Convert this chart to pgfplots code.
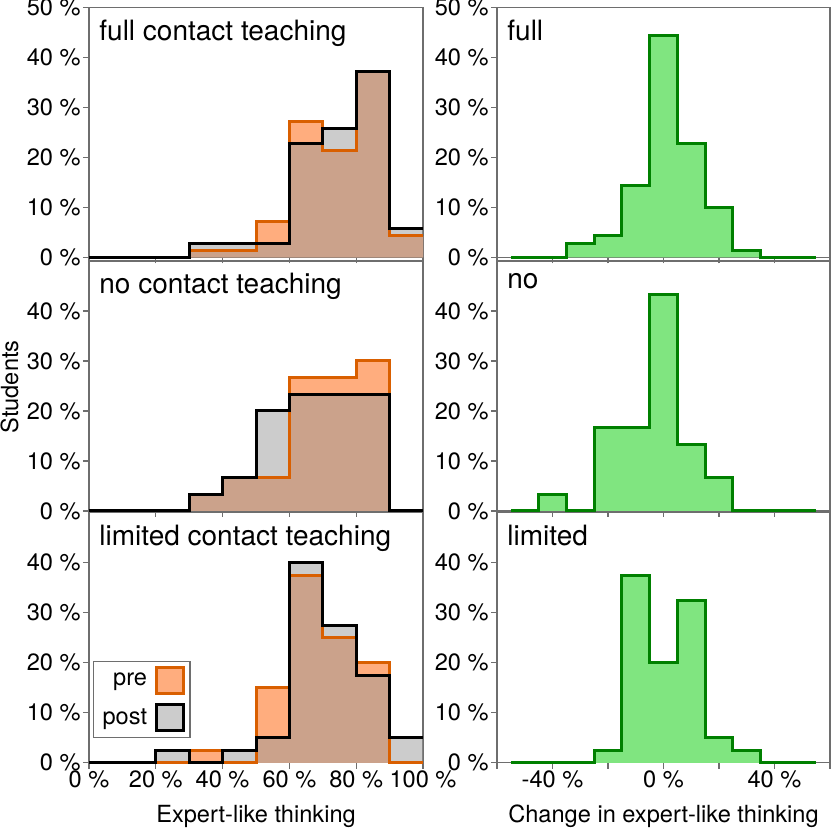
\documentclass[border=0pt]{standalone}
\usepackage{fontspec}
\setmainfont{TeX Gyre Heros}
\usepackage{pgfplots}
\usepackage{pgfplotstable}
\pgfplotsset{compat=1.18}

\definecolor{prefill}{RGB}{255,173,126}
\definecolor{preline}{RGB}{217,95,0}
\definecolor{postfill}{RGB}{153,153,153}
\definecolor{difffill}{RGB}{128,229,128}
\definecolor{diffline}{RGB}{0,128,0}
\definecolor{axgray}{RGB}{110,110,110}

\newcommand\ticksize{\fontsize{11.8}{13}\selectfont}
\newcommand\titlesize{\fontsize{14}{16}\selectfont}

% bin left edges, last row closes the final bin
\pgfplotstableread{
x y
0 0
10 0
20 0
30 1.43
40 1.43
50 7.14
60 27.14
70 21.43
80 37.14
90 4.29
100 4.29
}\fullpre
\pgfplotstableread{
x y
0 0
10 0
20 0
30 2.86
40 2.86
50 2.86
60 22.86
70 25.71
80 37.14
90 5.71
100 5.71
}\fullpost
\pgfplotstableread{
x y
0 0
10 0
20 0
30 3.33
40 6.67
50 6.67
60 26.67
70 26.67
80 30
90 0
100 0
}\nopre
\pgfplotstableread{
x y
0 0
10 0
20 0
30 3.33
40 6.67
50 20
60 23.33
70 23.33
80 23.33
90 0
100 0
}\nopost
\pgfplotstableread{
x y
0 0
10 0
20 0
30 2.5
40 0
50 15
60 37.5
70 25
80 20
90 0
100 0
}\limpre
\pgfplotstableread{
x y
0 0
10 0
20 2.5
30 0
40 2.5
50 5
60 40
70 27.5
80 17.5
90 5
100 5
}\limpost
\pgfplotstableread{
x y
-55 0
-45 0
-35 2.86
-25 4.29
-15 14.29
-5 44.29
5 22.86
15 10
25 1.43
35 0
45 0
55 0
}\fulldiff
\pgfplotstableread{
x y
-55 0
-45 3.33
-35 0
-25 16.67
-15 16.67
-5 43.33
5 13.33
15 6.67
25 0
35 0
45 0
55 0
}\nodiff
\pgfplotstableread{
x y
-55 0
-45 0
-35 0
-25 2.5
-15 37.5
-5 20
5 32.5
15 5
25 2.5
35 0
45 0
55 0
}\limdiff

\pgfplotsset{
  panel/.style={
    scale only axis, height=125pt, ymin=0, ymax=50, clip=false,
    axis line style={axgray, line width=0.6pt},
    tick style={axgray, line width=0.6pt},
    tick align=outside, xtick pos=bottom, ytick pos=left,
    major tick length=3pt,
    ticklabel style={font=\ticksize},
    xticklabel style={inner sep=1pt},
    yticklabel style={inner sep=1pt},
    ytick={0,10,20,30,40},
    yticklabels={0 \%,10 \%,20 \%,30 \%,40 \%},
    xlabel style={font=\ticksize, at={(rel axis cs:0.5,0)}, anchor=north, yshift=-21pt, inner sep=0pt},
  },
  toppanel/.style={ytick={0,10,20,30,40,50}, yticklabels={0 \%,10 \%,20 \%,30 \%,40 \%,50 \%}},
  leftpanel/.style={panel, width=167pt, xmin=0, xmax=100, xtick={0,20,...,100}, xticklabels={}},
  rightpanel/.style={panel, width=166.5pt, xmin=-60, xmax=60, xtick={-60,-40,...,60}, xticklabels={}},
  pre area/.style={const plot, fill=prefill, draw=none, forget plot},
  post area/.style={const plot, fill=postfill, fill opacity=0.5, draw=none, forget plot},
  pre line/.style={const plot, preline, line width=1.5pt, forget plot},
  post line/.style={const plot, black, line width=1.5pt, forget plot},
  diff area/.style={const plot, fill=difffill, draw=none, forget plot},
  diff line/.style={const plot, diffline, line width=1.5pt, forget plot},
}
\tikzset{paneltitle/.style={anchor=north west, inner sep=0pt, xshift=5pt, yshift=-6pt, font=\titlesize}}

\begin{document}
\begin{tikzpicture}
\useasboundingbox (0,0) rectangle (415.5pt,414pt);

% top row
\begin{axis}[leftpanel, toppanel, at={(44.5pt,285.3pt)}, anchor=south west]
  \addplot[pre area] table {\fullpre} \closedcycle;
  \addplot[post area] table {\fullpost} \closedcycle;
  \addplot[pre line] table {\fullpre};
  \addplot[post line] table {\fullpost};
  \node[paneltitle] at (rel axis cs:0,1) {full contact teaching};
\end{axis}
\begin{axis}[rightpanel, toppanel, at={(248.5pt,285.3pt)}, anchor=south west]
  \addplot[diff area] table {\fulldiff} \closedcycle;
  \addplot[diff line] table {\fulldiff};
  \node[paneltitle] at (rel axis cs:0,1) {full};
\end{axis}

% middle row
\begin{axis}[leftpanel, at={(44.5pt,158.5pt)}, anchor=south west]
  \addplot[pre area] table {\nopre} \closedcycle;
  \addplot[post area] table {\nopost} \closedcycle;
  \addplot[pre line] table {\nopre};
  \addplot[post line] table {\nopost};
  \node[paneltitle] at (rel axis cs:0,1) {no contact teaching};
\end{axis}
\begin{axis}[rightpanel, at={(248.5pt,158.5pt)}, anchor=south west]
  \addplot[diff area] table {\nodiff} \closedcycle;
  \addplot[diff line] table {\nodiff};
  \node[paneltitle] at (rel axis cs:0,1) {no};
\end{axis}

% bottom row
\begin{axis}[leftpanel, at={(44.5pt,32.6pt)}, anchor=south west,
    xticklabels={0 \%,20 \%,40 \%,60 \%,80 \%,100 \%},
    xlabel={Expert-like thinking},
    legend plot pos=right, legend cell align=right,
    legend image code/.code={\draw[#1] (0pt,-6.5pt) rectangle (13.5pt,6.5pt);},
    legend style={at={(rel axis cs:0.012,0.099)}, anchor=south west,
      draw=axgray, line width=0.6pt, font=\ticksize, inner sep=2.5pt,
      row sep=4pt, column sep=2pt}]
  \addlegendimage{fill=prefill, draw=preline, line width=1.5pt}
  \addlegendentry{pre}
  \addlegendimage{fill=postfill!50, draw=black, line width=1.5pt}
  \addlegendentry{post}
  \addplot[pre area] table {\limpre} \closedcycle;
  \addplot[post area] table {\limpost} \closedcycle;
  \addplot[pre line] table {\limpre};
  \addplot[post line] table {\limpost};
  \node[paneltitle] at (rel axis cs:0,1) {limited contact teaching};
\end{axis}
\begin{axis}[rightpanel, at={(248.5pt,32.6pt)}, anchor=south west,
    xticklabels={{},{-40 \%},{},{0 \%},{},{40 \%},{}},
    xlabel={Change in expert-like thinking}]
  \addplot[diff area] table {\limdiff} \closedcycle;
  \addplot[diff line] table {\limdiff};
  \node[paneltitle] at (rel axis cs:0,1) {limited};
\end{axis}

\node[rotate=90, anchor=north, inner sep=0pt, font=\ticksize] at (0pt,220.5pt) {Students};
\end{tikzpicture}
\end{document}
